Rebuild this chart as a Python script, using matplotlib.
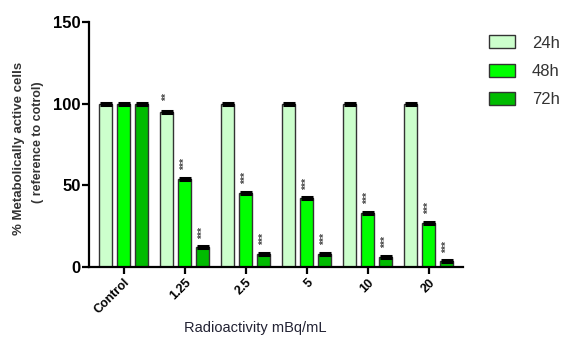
import matplotlib
matplotlib.use("Agg")
import matplotlib.pyplot as plt
import numpy as np

plt.rcParams['font.family'] = ['Liberation Sans', 'DejaVu Sans']

categories = ["Control", "1.25", "2.5", "5", "10", "20"]
series_names = ["24h", "48h", "72h"]
v24 = [100, 95, 100, 100, 100, 100]
v48 = [100, 54, 45.5, 42, 33, 27]
v72 = [100, 12, 8, 8, 6, 3.5]
err24 = [0.6, 0.6, 0.6, 0.6, 0.6, 0.6]
err48 = [0.6, 0.6, 0.6, 0.6, 0.6, 0.6]
err72 = [0.6, 0.6, 0.6, 0.6, 0.6, 0.6]
sig24 = ["", "**", "", "", "", ""]
sig48 = ["", "***", "***", "***", "***", "***"]
sig72 = ["", "***", "***", "***", "***", "***"]

colors = ["#ccffcc", "#00ff00", "#00bb00"]

fig = plt.figure(figsize=(5.63, 3.40), dpi=100)
ax = fig.add_axes([89/563, 73/340, (463-89)/563, (267-22)/340])

x = np.arange(len(categories))
offs = [-0.295, 0, 0.295]
width = 0.21
data = [v24, v48, v72]
errs = [err24, err48, err72]
sigs = [sig24, sig48, sig72]
handles = []
for i in range(3):
    b = ax.bar(x + offs[i], data[i], width, color=colors[i], edgecolor="#333333",
               linewidth=1.0, label=series_names[i], zorder=2)
    handles.append(b)
    ax.errorbar(x + offs[i], data[i], yerr=errs[i], fmt='none', ecolor='black',
                elinewidth=1, capsize=4.5, capthick=2.2, zorder=3)
    for xi, val, s in zip(x + offs[i], data[i], sigs[i]):
        if s:
            ax.text(xi, val + 9, s, rotation=90, ha='center', va='center',
                    fontsize=7.5, fontweight='bold', color='#444444')

ax.set_xlim(-0.57, 5.56)
ax.set_ylim(0, 150)
ax.set_yticks([0, 50, 100, 150])
ax.set_yticklabels(["0", "50", "100", "150"], fontsize=12, fontweight='bold')
ax.set_xticks(x)
ax.set_xticklabels(categories, rotation=45, ha='right', rotation_mode='anchor',
                   fontsize=9, fontweight='bold')
for spine in ['top', 'right']:
    ax.spines[spine].set_visible(False)
for spine in ['left', 'bottom']:
    ax.spines[spine].set_linewidth(1.6)
ax.tick_params(axis='both', direction='out', length=5, width=1.6, pad=2)
ax.tick_params(axis='y', pad=1)

fig.text(19/563, 1 - 148/340, "% Metabolically active cells", rotation=90,
         ha='center', va='center', fontsize=9.5, fontweight='bold', color='#333333')
fig.text(38/563, 1 - 142/340, "( reference to cotrol)", rotation=90,
         ha='center', va='center', fontsize=9, fontweight='bold', color='#333333')
fig.text(255/563, 1 - 328/340, "Radioactivity mBq/mL", ha='center', va='center',
         fontsize=10.5, color='#222233')

fig.legend(handles=handles, labels=series_names, loc='upper left',
           bbox_to_anchor=(481/563, 1 - 27/340), frameon=False, fontsize=12,
           handlelength=1.55, handleheight=0.8, labelspacing=0.8,
           handletextpad=1.0, borderpad=0, labelcolor='#333333')

fig.savefig("out.png", dpi=100)
